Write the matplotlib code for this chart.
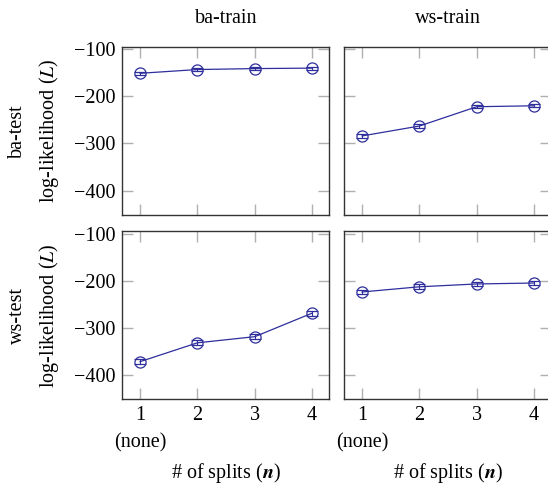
import numpy as np
import matplotlib
matplotlib.use("Agg")
import matplotlib.pyplot as plt

plt.rcParams['font.family'] = ['Liberation Serif', 'DejaVu Serif']
plt.rcParams['mathtext.fontset'] = 'stix'
plt.rcParams['font.size'] = 14.5

# data
splits = [1, 2, 3, 4]
train_names = ["ba-train", "ws-train"]
test_names = ["ba-test", "ws-test"]
# ll[test][train]
ll = {
    ("ba-test", "ba-train"): [-151, -143, -141, -140],
    ("ba-test", "ws-train"): [-284, -263, -222, -220],
    ("ws-test", "ba-train"): [-372, -332, -319, -269],
    ("ws-test", "ws-train"): [-224, -213, -207, -205],
}
err = {
    ("ba-test", "ba-train"): [3, 3, 3, 3],
    ("ba-test", "ws-train"): [4, 4, 3, 3],
    ("ws-test", "ba-train"): [6, 5, 5, 5],
    ("ws-test", "ws-train"): [5, 5, 5, 4],
}
yticks = [-100, -200, -300, -400]
blue = '#2e2e9c'
fs = 14.5

W, H = 548, 487
fig = plt.figure(figsize=(W / 100, H / 100), dpi=100)

col_x = [122.3, 344.3]
ax_w = 207.0
row_top = [46.7, 231.0]
ax_h = 168.3

for i, test in enumerate(test_names):
    for j, train in enumerate(train_names):
        rect = [col_x[j] / W, 1 - (row_top[i] + ax_h) / H, ax_w / W, ax_h / H]
        ax = fig.add_axes(rect)
        ax.errorbar(splits, ll[(test, train)], yerr=err[(test, train)],
                    color=blue, lw=0.9, marker='o', ms=8, mfc='none', mew=0.9,
                    capsize=4, elinewidth=0.8, capthick=0.8)
        ax.set_xlim(0.69, 4.3)
        ax.set_ylim(-452, -94.5)
        ax.set_xticks(splits)
        ax.set_yticks(yticks)
        ax.set_yticklabels(["\u2212%d" % abs(t) for t in yticks])
        ax.tick_params(direction='in', length=8, width=1, color='#b0b0b0',
                       top=True, right=True, labelsize=fs, pad=5)
        for s in ax.spines.values():
            s.set_color('#333333')
            s.set_linewidth(1)
        if i == 0:
            ax.set_title(train, fontsize=fs, pad=17)
            ax.tick_params(labelbottom=False)
        else:
            ax.text(1, -0.26, "(none)", transform=ax.get_xaxis_transform(),
                    ha='center', va='center', fontsize=fs)
            ax.set_xlabel(r"# of splits ($\boldsymbol{n}$)", fontsize=fs, labelpad=26)
        if j == 0:
            ax.set_ylabel(test + "\nlog-likelihood ($L$)", fontsize=fs, labelpad=9,
                          linespacing=1.6)
        else:
            ax.tick_params(labelleft=False)

fig.savefig("out.png", dpi=100)
